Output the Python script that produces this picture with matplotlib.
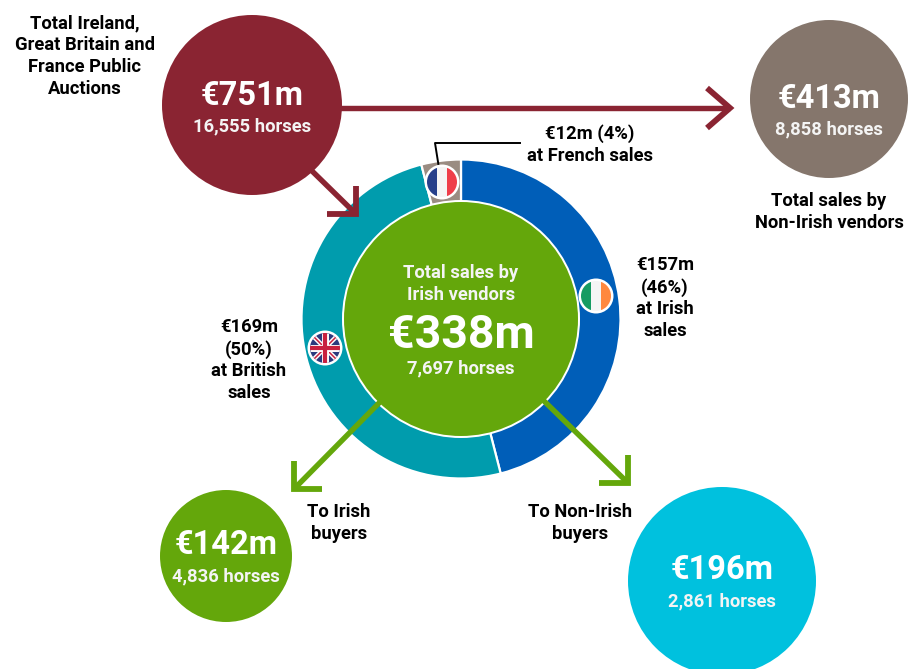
import matplotlib
matplotlib.use('Agg')
import matplotlib.pyplot as plt
from matplotlib.patches import Circle, Rectangle

plt.rcParams['font.family'] = ['Roboto', 'DejaVu Sans']

# share of Irish vendor sales by sale location, %
ring_share = [46, 50, 4]
ring_colors = ['#005EB8', '#009CAD', '#9A8C82']

bubble_values = ['€751m', '€413m', '€142m', '€196m']
bubble_horses = ['16,555 horses', '8,858 horses', '4,836 horses', '2,861 horses']
bubble_colors = ['#8A2432', '#85766C', '#64A70B', '#00C1DE']

centre_title = 'Total sales by\nIrish vendors'
centre_value = '€338m'
centre_horses = '7,697 horses'

RED = '#8A2432'
GREEN = '#64A70B'
W, H = 920, 669


def Y(py):
    # picture y runs down, axes y runs up
    return H - py


fig = plt.figure(figsize=(9.2, 6.69), dpi=100)
ax = fig.add_axes([0, 0, 1, 1])

# ring
ax.pie(ring_share, colors=ring_colors, startangle=90, counterclock=False,
       radius=159.5, center=(461, Y(319)), frame=True,
       wedgeprops={'edgecolor': 'white', 'linewidth': 1.6})
ax.add_patch(Circle((461, Y(319)), 119, fc='white', ec='none', zorder=3))
ax.add_patch(Circle((461, Y(319)), 117, fc=GREEN, ec='none', zorder=4))


def arrow(x0, y0, x1, y1, arm1, arm2, color, zo=5):
    ax.plot([x0, x1], [Y(y0), Y(y1)], color=color, lw=3.9, solid_capstyle='butt', zorder=zo)
    ax.plot([arm1[0], x1, arm2[0]], [Y(arm1[1]), Y(y1), Y(arm2[1])], color=color, lw=4.2,
            solid_joinstyle='miter', solid_capstyle='butt', zorder=zo)


arrow(340, 108, 730, 108, (707, 88), (707, 128), RED, zo=1)
arrow(311, 170, 356, 214, (327, 214), (356, 186), RED)
arrow(380, 402, 294, 489, (322, 489), (294, 461), GREEN)
arrow(543, 400, 628, 483, (599, 483), (628, 455), GREEN)

# bubbles
bubble_xy = [(252, 105), (829, 99), (226, 556), (722, 581)]
bubble_r = [90, 79, 66, 94]
value_y = [96, 99, 545, 570]
horses_y = [126, 129, 576, 601]
for i in range(4):
    x, y = bubble_xy[i]
    ax.add_patch(Circle((x, Y(y)), bubble_r[i], fc=bubble_colors[i], ec='none', zorder=2))
    ax.text(x, Y(value_y[i]), bubble_values[i], color='white', fontsize=23.5, fontweight='bold',
            ha='center', va='center', zorder=6)
    ax.text(x, Y(horses_y[i]), bubble_horses[i], color='#F4F4F4', fontsize=13.2, fontweight='bold',
            ha='center', va='center', zorder=6)

# centre text
ax.text(461, Y(284), centre_title, color='#F4F4F4', fontsize=13.2, fontweight='bold', ha='center',
        va='center', linespacing=1.28, zorder=6)
ax.text(461, Y(335), centre_value, color='white', fontsize=33.5, fontweight='bold', ha='center',
        va='center', zorder=6)
ax.text(461, Y(368), centre_horses, color='#F4F4F4', fontsize=13.2, fontweight='bold', ha='center',
        va='center', zorder=6)

# outside labels
labels = [
    (85, 56, 'Total Ireland,\nGreat Britain and\nFrance Public\nAuctions'),
    (829, 212, 'Total sales by\nNon-Irish vendors'),
    (590, 145, '€12m (4%)\nat French sales'),
    (665, 298, '€157m\n(46%)\nat Irish\nsales'),
    (249, 360, '€169m\n(50%)\nat British\nsales'),
    (339, 523, 'To Irish\nbuyers'),
    (580, 523, 'To Non-Irish\nbuyers'),
]
for x, y, s in labels:
    ax.text(x, Y(y), s, color='black', fontsize=13.2, fontweight='bold', ha='center', va='center',
            linespacing=1.28, zorder=6)

# leader line to the French slice
ax.plot([438.5, 435, 520], [Y(165), Y(143), Y(143)], color='black', lw=1.4, zorder=6)


def flag_base(cx, cy):
    ax.add_patch(Circle((cx, Y(cy)), 17.5, fc='white', ec='none', zorder=7))
    return Circle((cx, Y(cy)), 15, transform=ax.transData)


def stripes(cx, cy, cols):
    clip = flag_base(cx, cy)
    for k, c in enumerate(cols):
        r = Rectangle((cx - 15 + k * 10, Y(cy) - 15), 10, 30, fc=c, ec='none', zorder=8)
        ax.add_patch(r)
        r.set_clip_path(clip)


stripes(442, 182, ['#27408B', '#F5F5F5', '#EF3E4A'])
stripes(596, 296, ['#169B62', '#F5F5F5', '#FF883E'])

# union flag
ux, uy = 325, 348
clip = flag_base(ux, uy)
bg = Rectangle((ux - 15, Y(uy) - 15), 30, 30, fc='#2B3A7E', ec='none', zorder=8)
ax.add_patch(bg)
bg.set_clip_path(clip)
uk_lines = [
    ([ux - 15, ux + 15], [Y(uy) - 15, Y(uy) + 15], 'white', 3.2),
    ([ux - 15, ux + 15], [Y(uy) + 15, Y(uy) - 15], 'white', 3.2),
    ([ux - 15, ux + 15], [Y(uy) - 15, Y(uy) + 15], '#C8203F', 1.1),
    ([ux - 15, ux + 15], [Y(uy) + 15, Y(uy) - 15], '#C8203F', 1.1),
    ([ux, ux], [Y(uy) - 15, Y(uy) + 15], 'white', 5),
    ([ux - 15, ux + 15], [Y(uy), Y(uy)], 'white', 5),
    ([ux, ux], [Y(uy) - 15, Y(uy) + 15], '#C8203F', 3),
    ([ux - 15, ux + 15], [Y(uy), Y(uy)], '#C8203F', 3),
]
for xs, ys, c, lw in uk_lines:
    ln, = ax.plot(xs, ys, color=c, lw=lw, solid_capstyle='butt', zorder=8)
    ln.set_clip_path(clip)

ax.set_xlim(0, W)
ax.set_ylim(0, H)
ax.set_aspect('auto')
ax.axis('off')

fig.savefig('out.png', dpi=100, facecolor='white')
